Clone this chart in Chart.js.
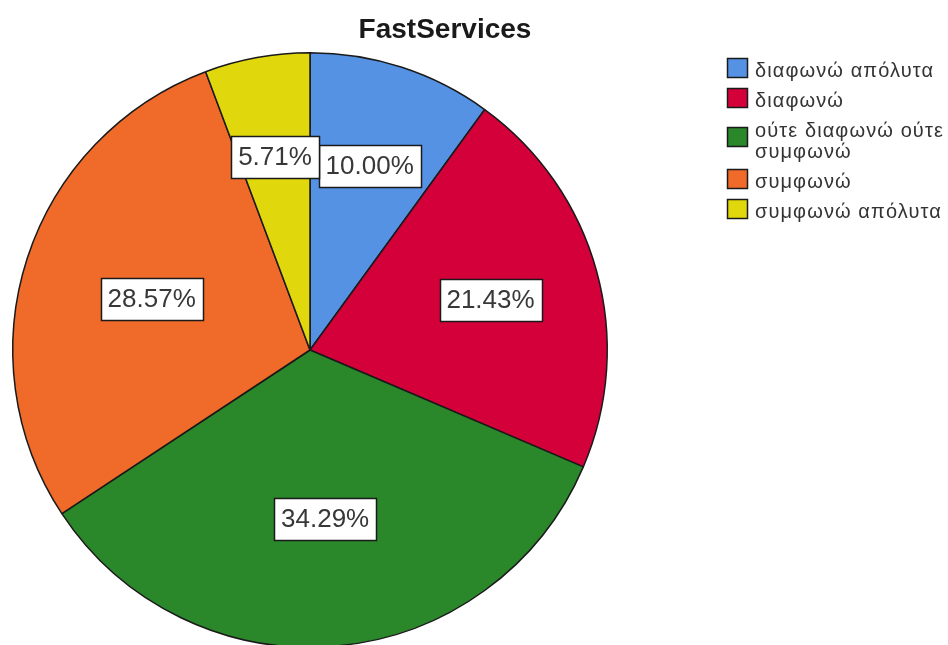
<!DOCTYPE html>
<html>
<head>
<meta charset="utf-8">
<script src="https://cdn.jsdelivr.net/npm/chart.js@4"></script>
<style>
html, body { margin: 0; padding: 0; background: #fff; overflow: hidden; }
#wrap { width: 948px; height: 645px; overflow: hidden; position: relative; }
</style>
</head>
<body>
<div id="wrap"><canvas id="chart" width="948" height="660"></canvas></div>
<script>
const chartTitle = 'FastServices';
const categories = ['διαφωνώ απόλυτα', 'διαφωνώ', 'ούτε διαφωνώ ούτε συμφωνώ', 'συμφωνώ', 'συμφωνώ απόλυτα'];
// legend text, split where it wraps
const legendLines = [['διαφωνώ απόλυτα'], ['διαφωνώ'], ['ούτε διαφωνώ ούτε', 'συμφωνώ'], ['συμφωνώ'], ['συμφωνώ απόλυτα']];
const percentages = [10.00, 21.43, 34.29, 28.57, 5.71];
const colors = ['#5592e4', '#d3003a', '#2a872a', '#f06a2a', '#e0d80c'];

// How far out each value box sits, as a share of the radius.
const labelRadius = [0.65, 0.63, 0.57, 0.56, 0.66];

const FONT = '"Liberation Sans", Arial, sans-serif';

// Title at the top of the canvas.
const titlePlugin = {
	id: 'titleText',
	afterDraw(chart) {
		const ctx = chart.ctx;
		ctx.save();
		ctx.font = 'bold 28px ' + FONT;
		ctx.fillStyle = '#1a1a1a';
		ctx.textAlign = 'center';
		ctx.textBaseline = 'alphabetic';
		ctx.fillText(chartTitle, 445, 38);
		ctx.restore();
	}
};

// Percentage boxes on each slice.
const valueBoxes = {
	id: 'valueBoxes',
	afterDatasetsDraw(chart) {
		const ctx = chart.ctx;
		const meta = chart.getDatasetMeta(0);
		ctx.save();
		ctx.font = '26px ' + FONT;
		ctx.textAlign = 'center';
		ctx.textBaseline = 'middle';
		meta.data.forEach(function (arc, i) {
			const p = arc.getProps(['x', 'y', 'startAngle', 'endAngle', 'outerRadius'], true);
			const mid = (p.startAngle + p.endAngle) / 2;
			const r = p.outerRadius * labelRadius[i];
			const cx = p.x + Math.cos(mid) * r;
			const cy = p.y + Math.sin(mid) * r;
			const text = percentages[i].toFixed(2) + '%';
			const w = Math.round(ctx.measureText(text).width) + 14;
			const h = 42;
			const left = Math.round(cx - w / 2) + 0.5;
			const top = Math.round(cy - h / 2) + 0.5;
			ctx.fillStyle = '#ffffff';
			ctx.fillRect(left, top, w, h);
			ctx.strokeStyle = '#1a1a1a';
			ctx.lineWidth = 1.5;
			ctx.strokeRect(left, top, w, h);
			ctx.fillStyle = '#383838';
			ctx.fillText(text, cx, cy + 1);
		});
		ctx.restore();
	}
};

// Legend on the right, with wrapped labels.
const sideLegend = {
	id: 'sideLegend',
	afterDraw(chart) {
		const ctx = chart.ctx;
		ctx.save();
		ctx.font = '20px ' + FONT;
		ctx.letterSpacing = '1.1px';
		ctx.textAlign = 'left';
		ctx.textBaseline = 'alphabetic';
		let baseline = 77;
		legendLines.forEach(function (lines, i) {
			const boxTop = baseline - 19 + (lines.length - 1) * 9;
			ctx.fillStyle = colors[i];
			ctx.fillRect(727.5, boxTop + 0.5, 20, 19);
			ctx.strokeStyle = '#1a1a1a';
			ctx.lineWidth = 1.5;
			ctx.strokeRect(727.5, boxTop + 0.5, 20, 19);
			ctx.fillStyle = '#333333';
			lines.forEach(function (line, j) {
				if (j > 0) baseline += 21;
				ctx.fillText(line, 755, baseline);
			});
			baseline += 30;
		});
		ctx.restore();
	}
};

new Chart(document.getElementById('chart'), {
	type: 'pie',
	data: {
		labels: categories,
		datasets: [{
			data: percentages,
			backgroundColor: colors,
			borderColor: '#1a1a1a',
			borderWidth: 1.5
		}]
	},
	options: {
		responsive: false,
		animation: false,
		devicePixelRatio: 1,
		layout: { padding: { left: 12, top: 52, right: 340, bottom: 12 } },
		plugins: {
			legend: { display: false },
			tooltip: { enabled: false }
		}
	},
	plugins: [titlePlugin, valueBoxes, sideLegend]
});
</script>
</body>
</html>
